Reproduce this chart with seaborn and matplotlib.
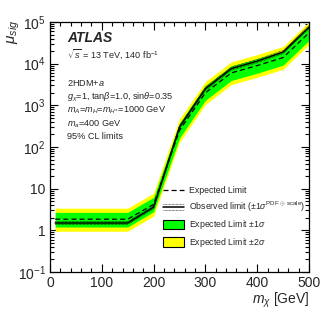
import numpy as np
import pandas as pd
import matplotlib
matplotlib.use("Agg")
import matplotlib.pyplot as plt
import matplotlib.ticker as mticker
from matplotlib.lines import Line2D
from matplotlib.patches import Patch
from matplotlib.legend_handler import HandlerBase
import seaborn as sns

# values
mx = [10, 50, 100, 150, 200, 250, 300, 350, 400, 450, 500]
expected = [1.85, 1.85, 1.85, 1.85, 4.2, 250, 2000, 6000, 9000, 14000, 55000]
observed = [1.5, 1.5, 1.5, 1.5, 3.6, 300, 2500, 7600, 11500, 19000, 75000]
obs_up = [1.62, 1.62, 1.62, 1.62, 3.9, 330, 2750, 8300, 12600, 20800, 82000]
obs_dn = [1.39, 1.39, 1.39, 1.39, 3.3, 275, 2280, 6950, 10500, 17400, 68000]
green_up = [2.7, 2.7, 2.7, 2.7, 6.2, 370, 2950, 8800, 13200, 20600, 81000]
green_dn = [1.2, 1.2, 1.2, 1.2, 2.8, 165, 1320, 3950, 5900, 9200, 36000]
yellow_up = [3.4, 3.4, 3.4, 3.4, 7.8, 470, 3700, 11000, 16500, 26000, 100000]
yellow_dn = [0.95, 0.95, 0.95, 0.95, 2.2, 130, 1050, 3150, 4700, 7300, 29000]

df = pd.DataFrame({"mx": mx, "expected": expected, "observed": observed,
                   "obs_up": obs_up, "obs_dn": obs_dn})

sns.set_style("ticks")
plt.rcParams["font.family"] = ["Liberation Sans", "DejaVu Sans"]
plt.rcParams["mathtext.fontset"] = "custom"
plt.rcParams["mathtext.rm"] = "Liberation Sans"
plt.rcParams["mathtext.it"] = "Liberation Sans:italic"
plt.rcParams["mathtext.bf"] = "Liberation Sans:bold"
plt.rcParams["mathtext.sf"] = "Liberation Sans"

fig = plt.figure(figsize=(3.32, 3.22), dpi=100)
ax = fig.add_axes([50 / 332, 1 - 272 / 322, 259 / 332, 250 / 322])

ax.fill_between(mx, yellow_dn, yellow_up, color="#ffff00", lw=0, zorder=1)
ax.fill_between(mx, green_dn, green_up, color="#00ff00", lw=0, zorder=2)
sns.lineplot(data=df, x="mx", y="expected", ax=ax, color="black", lw=0.9,
             linestyle=(0, (4, 2.5)), zorder=3)
sns.lineplot(data=df, x="mx", y="observed", ax=ax, color="black", lw=1.1, zorder=4)
sns.lineplot(data=df, x="mx", y="obs_up", ax=ax, color="black", lw=0.5,
             linestyle=(0, (1, 1)), zorder=4)
sns.lineplot(data=df, x="mx", y="obs_dn", ax=ax, color="black", lw=0.5,
             linestyle=(0, (1, 1)), zorder=4)

ax.set_yscale("log")
ax.set_xlim(0, 500)
ax.set_ylim(0.1, 1e5)
ax.set_xlabel("")
ax.set_ylabel("")

ax.xaxis.set_major_locator(mticker.MultipleLocator(100))
ax.xaxis.set_minor_locator(mticker.MultipleLocator(20))
ax.yaxis.set_major_locator(mticker.FixedLocator([0.1, 1, 10, 1e2, 1e3, 1e4, 1e5]))
ax.yaxis.set_major_formatter(mticker.FixedFormatter(
    ["$10^{-1}$", "1", "10", "$10^{2}$", "$10^{3}$", "$10^{4}$", "$10^{5}$"]))
ax.yaxis.set_minor_locator(mticker.LogLocator(base=10, subs=np.arange(2, 10), numticks=20))
ax.yaxis.set_minor_formatter(mticker.NullFormatter())

ax.tick_params(which="both", direction="in", top=True, right=True, width=0.8,
               labelsize=10, color="black")
ax.tick_params(which="major", length=5.5, pad=3)
ax.tick_params(which="minor", length=2.8)
for s in ax.spines.values():
    s.set_linewidth(0.9)
    s.set_color("black")

fig.text(14 / 332, 1 - 20 / 322, r"$\mu_{sig}$", rotation=90, ha="center", va="top", fontsize=11)
fig.text(309 / 332, 1 - 304 / 322, r"$m_{\chi}$ [GeV]", ha="right", va="baseline", fontsize=10)

fig.text(67 / 332, 1 - 42 / 322, "ATLAS", fontsize=10, fontweight="bold", style="italic")
small = 6.6
lines = [
    (58, r"$\sqrt{s}$ = 13 TeV, 140 fb$^{-1}$"),
    (86, "2HDM+$a$"),
    (100, r"$g_{\chi}$=1, tan$\beta$=1.0, sin$\theta$=0.35"),
    (113, r"$m_{A}$=$m_{H}$=$m_{H^{\pm}}$=1000 GeV"),
    (126, r"$m_{a}$=400 GeV"),
    (139, "95% CL limits"),
]
for y, t in lines:
    fig.text(67 / 332, 1 - y / 322, t, fontsize=small, va="baseline")


class ObsHandler(HandlerBase):
    def create_artists(self, legend, orig_handle, xdescent, ydescent, width, height,
                       fontsize, trans):
        y0 = height / 2 - ydescent
        arts = [Line2D([0, width], [y0, y0], color="black", lw=1.1, transform=trans)]
        for dy in (2.0, -2.0):
            arts.append(Line2D([0, width], [y0 + dy, y0 + dy], color="black", lw=0.5,
                               linestyle=(0, (1, 1)), transform=trans))
        return arts


h_exp = Line2D([], [], color="black", lw=0.9, linestyle=(0, (4, 2.5)))
h_obs = object()
h_g = Patch(facecolor="#00ff00", edgecolor="black", lw=0.8)
h_y = Patch(facecolor="#ffff00", edgecolor="black", lw=0.8)
leg = ax.legend([h_exp, h_obs, h_g, h_y],
                ["Expected Limit",
                 r"Observed limit ($\pm1\sigma^{\mathrm{PDF\,\oplus\,scale}}$)",
                 r"Expected Limit $\pm1\sigma$",
                 r"Expected Limit $\pm2\sigma$"],
                handler_map={h_obs: ObsHandler()},
                loc="upper left", bbox_to_anchor=(0.435, 0.345), frameon=False,
                fontsize=6.3, handlelength=2.4, handleheight=1.25,
                handletextpad=0.6, labelspacing=0.5, borderpad=0, borderaxespad=0)

fig.savefig("out.png", dpi=100)
